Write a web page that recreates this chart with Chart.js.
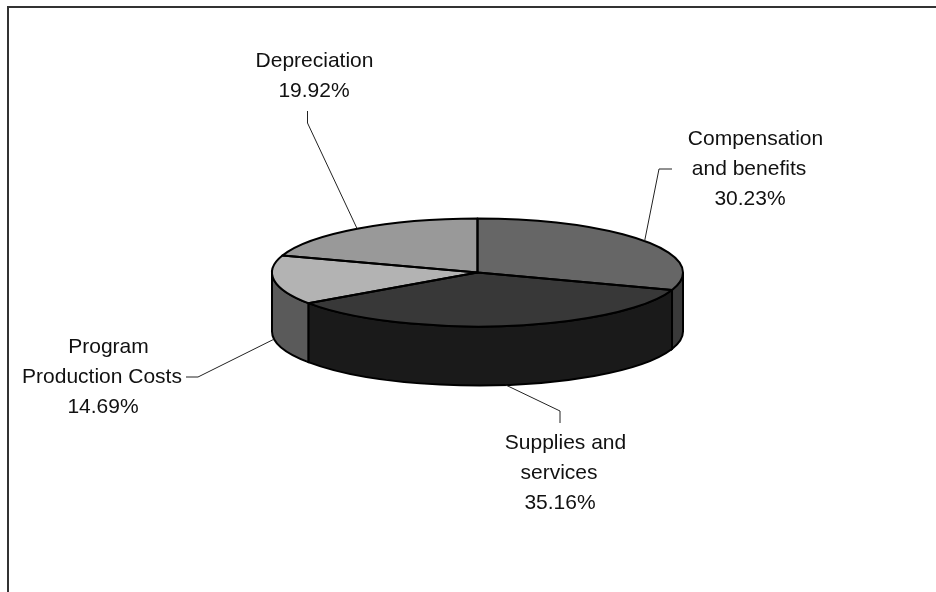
<!DOCTYPE html>
<html lang="en">
  <head>
    <meta charset="UTF-8" />
    <title>Expense breakdown</title>
    <style>
      body {
        margin: 0;
        background-color: white;
      }

      #frame {
        position: absolute;
        left: 7px;
        top: 6px;
        right: 0;
        bottom: 0;
        border-left: 2px solid #333;
        border-top: 2px solid #333;
      }

      canvas {
        position: absolute;
        left: 0;
        top: 0;
      }
    </style>
  </head>
  <body>
    <div id="frame"></div>
    <canvas id="pieChart" width="936" height="592"></canvas>

    <script src="https://cdn.jsdelivr.net/npm/chart.js"></script>
    <script>
      // Data
      const categories = [
        "Compensation and benefits",
        "Supplies and services",
        "Program Production Costs",
        "Depreciation",
      ];
      const shares = [30.23, 35.16, 14.69, 19.92];
      const labelLines = [
        ["Compensation", "and benefits"],
        ["Supplies and", "services"],
        ["Program", "Production Costs"],
        ["Depreciation"],
      ];

      // Greys
      const topColors = ["#666666", "#383838", "#b3b3b3", "#999999"];
      const wallColors = ["#3a3a3a", "#1a1a1a", "#5a5a5a", "#4a4a4a"];

      // Look of the fake 3D
      const tilt = 54 / 205.5;
      const depth = 59;

      // Label placement: centre x of each line, first baseline, then the leader
      // elbows going from the pie out to the label
      const labelPlaces = [
        { xs: [755.5, 749, 750], y: 145, elbows: [[659, 169], [672, 169]] },
        { xs: [565.5, 559, 560], y: 449, elbows: [[560, 411], [560, 423]] },
        { xs: [108.5, 102, 103], y: 353, elbows: [[198, 377], [186, 377]] },
        { xs: [314.5, 314], y: 67, elbows: [[307.5, 123], [307.5, 111]] },
      ];

      const pie3d = {
        id: "pie3d",
        // side walls, only the front half of the pie shows them
        beforeDatasetsDraw(chart) {
          const ctx = chart.ctx;
          chart.getDatasetMeta(0).data.forEach((arc, i) => {
            const rx = arc.outerRadius;
            const ry = rx * tilt;
            const a0 = Math.max(arc.startAngle, 0);
            const a1 = Math.min(arc.endAngle, Math.PI);
            if (a1 <= a0) return;
            ctx.beginPath();
            ctx.ellipse(arc.x, arc.y, rx, ry, 0, a0, a1);
            ctx.ellipse(arc.x, arc.y + depth, rx, ry, 0, a1, a0, true);
            ctx.closePath();
            ctx.fillStyle = wallColors[i];
            ctx.fill();
            ctx.lineWidth = 2;
            ctx.strokeStyle = "black";
            ctx.stroke();
          });
        },
        // squash the real pie into an ellipse
        beforeDatasetDraw(chart) {
          const ctx = chart.ctx;
          const arc = chart.getDatasetMeta(0).data[0];
          ctx.save();
          ctx.translate(arc.x, arc.y);
          ctx.scale(1, tilt);
          ctx.translate(-arc.x, -arc.y);
        },
        afterDatasetDraw(chart) {
          chart.ctx.restore();
        },
        afterDatasetsDraw(chart) {
          const ctx = chart.ctx;
          chart.getDatasetMeta(0).data.forEach((arc, i) => {
            const rx = arc.outerRadius;
            const ry = rx * tilt;

            // slice outline, stroked here so the pen is not squashed as well
            ctx.beginPath();
            ctx.moveTo(arc.x, arc.y);
            ctx.ellipse(arc.x, arc.y, rx, ry, 0, arc.startAngle, arc.endAngle);
            ctx.closePath();
            ctx.lineWidth = 2;
            ctx.lineJoin = "round";
            ctx.strokeStyle = "black";
            ctx.stroke();

            // leader from the middle of the slice
            const mid = (arc.startAngle + arc.endAngle) / 2;
            const place = labelPlaces[i];
            const startY =
              arc.y + ry * Math.sin(mid) + (Math.sin(mid) > 0 ? depth : 0);
            ctx.beginPath();
            ctx.moveTo(arc.x + rx * Math.cos(mid), startY);
            place.elbows.forEach((p) => ctx.lineTo(p[0], p[1]));
            ctx.lineWidth = 1;
            ctx.strokeStyle = "#222";
            ctx.stroke();

            // label text
            const lines = labelLines[i].concat(shares[i].toFixed(2) + "%");
            ctx.font = '21px "Liberation Sans", Arial, sans-serif';
            ctx.fillStyle = "#111";
            ctx.textAlign = "center";
            ctx.textBaseline = "alphabetic";
            lines.forEach((line, n) => {
              ctx.fillText(line, place.xs[n], place.y + n * 30);
            });
          });
        },
      };

      new Chart(document.getElementById("pieChart"), {
        type: "pie",
        data: {
          labels: categories,
          datasets: [
            {
              data: shares,
              backgroundColor: topColors,
              borderWidth: 0,
            },
          ],
        },
        options: {
          responsive: false,
          animation: false,
          radius: 205.5,
          layout: { padding: { left: 19, bottom: 47 } },
          plugins: {
            legend: { display: false },
            tooltip: { enabled: false },
          },
        },
        plugins: [pie3d],
      });
    </script>
  </body>
</html>
